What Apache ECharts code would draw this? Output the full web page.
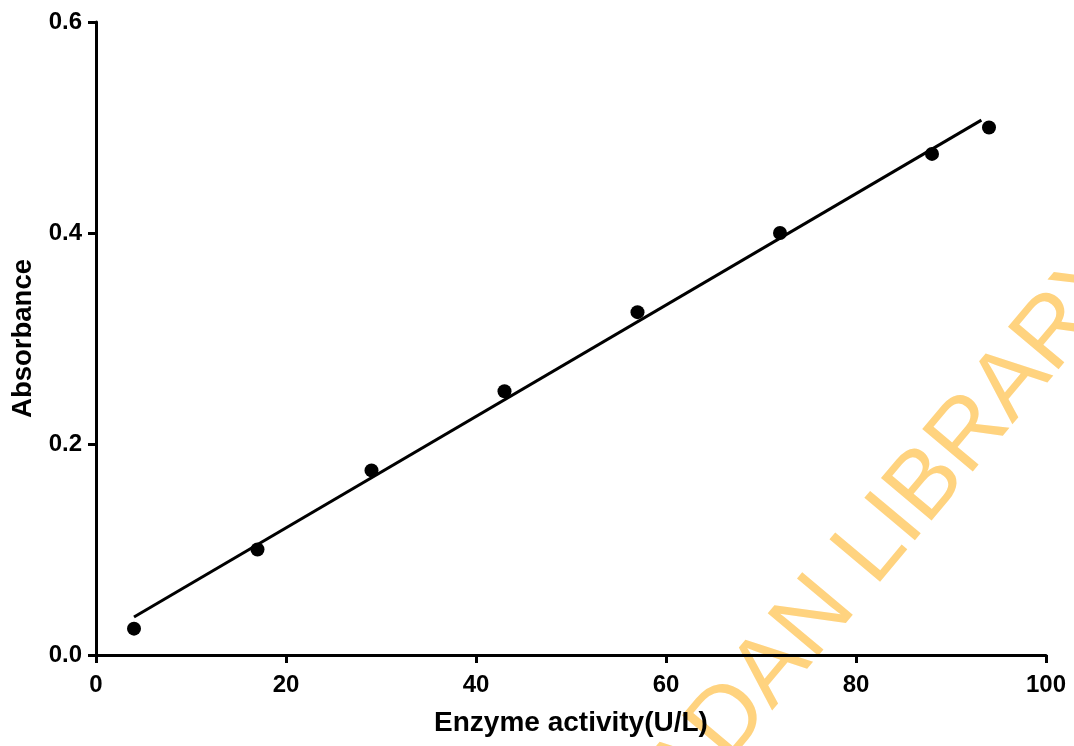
<!DOCTYPE html>
<html>
<head>
<meta charset="utf-8">
<script src="https://cdn.jsdelivr.net/npm/echarts@6/dist/echarts.min.js"></script>
<style>
  html, body { margin: 0; padding: 0; background: #fff; }
  #main { width: 1074px; height: 746px; }
</style>
</head>
<body>
<div id="main"></div>
<script>
// measured points
const enzymeActivity = [4, 17, 29, 43, 57, 72, 88, 94];
const absorbance = [0.025, 0.1, 0.175, 0.25, 0.325, 0.4, 0.475, 0.5];
// fitted line ends
const fitX = [4, 93.2];
const fitY = [0.036, 0.507];

const font = '"Liberation Sans", Arial, sans-serif';
const deg = Math.PI / 180;
// watermark anchor (start of "LIBRARY")
const wmX = 818, wmY = 540;

let myChart = echarts.init(document.getElementById('main'));
myChart.setOption({
  animation: false,
  grid: { left: 96, right: 28, top: 22, bottom: 91, outerBoundsMode: 'none' },
  xAxis: {
    type: 'value',
    min: 0, max: 100, interval: 20,
    name: 'Enzyme activity(U/L)',
    nameLocation: 'middle',
    nameGap: 54,
    nameTextStyle: { fontFamily: font, fontWeight: 'bold', fontSize: 28, color: '#000' },
    axisLine: { show: true, onZero: false, lineStyle: { color: '#000', width: 3 } },
    axisTick: { show: true, length: 8, lineStyle: { color: '#000', width: 3 } },
    axisLabel: { margin: 18, fontFamily: font, fontWeight: 'bold', fontSize: 24, color: '#000' },
    splitLine: { show: false }
  },
  yAxis: {
    type: 'value',
    min: 0, max: 0.6, interval: 0.2,
    name: 'Absorbance',
    nameLocation: 'middle',
    nameGap: 58,
    nameTextStyle: { fontFamily: font, fontWeight: 'bold', fontSize: 27.5, color: '#000' },
    axisLine: { show: true, onZero: false, lineStyle: { color: '#000', width: 3 } },
    axisTick: { show: true, length: 8, lineStyle: { color: '#000', width: 3 } },
    axisLabel: {
      margin: 14, fontFamily: font, fontWeight: 'bold', fontSize: 24, color: '#000',
      formatter: v => v.toFixed(1)
    },
    splitLine: { show: false }
  },
  graphic: [
    {
      type: 'text', x: wmX, y: wmY, rotation: 50 * deg, z: -1,
      style: { text: 'LIBRARY', fontFamily: font, fontSize: 96, fill: '#FFD37F', align: 'left' }
    },
    {
      type: 'text', x: wmX - 27 * Math.cos(50 * deg), y: wmY + 27 * Math.sin(50 * deg), rotation: 50 * deg, z: -1,
      style: { text: 'UNIVERSITY OF IBADAN', fontFamily: font, fontSize: 96, fill: '#FFD37F', align: 'right' }
    }
  ],
  series: [
    {
      type: 'line',
      data: fitX.map((x, i) => [x, fitY[i]]),
      showSymbol: false,
      symbol: 'none',
      lineStyle: { color: '#000', width: 3 },
      z: 3
    },
    {
      type: 'scatter',
      data: enzymeActivity.map((x, i) => [x, absorbance[i]]),
      symbol: 'circle',
      symbolSize: 14,
      itemStyle: { color: '#000', opacity: 1 },
      z: 4
    }
  ]
});
</script>
</body>
</html>
